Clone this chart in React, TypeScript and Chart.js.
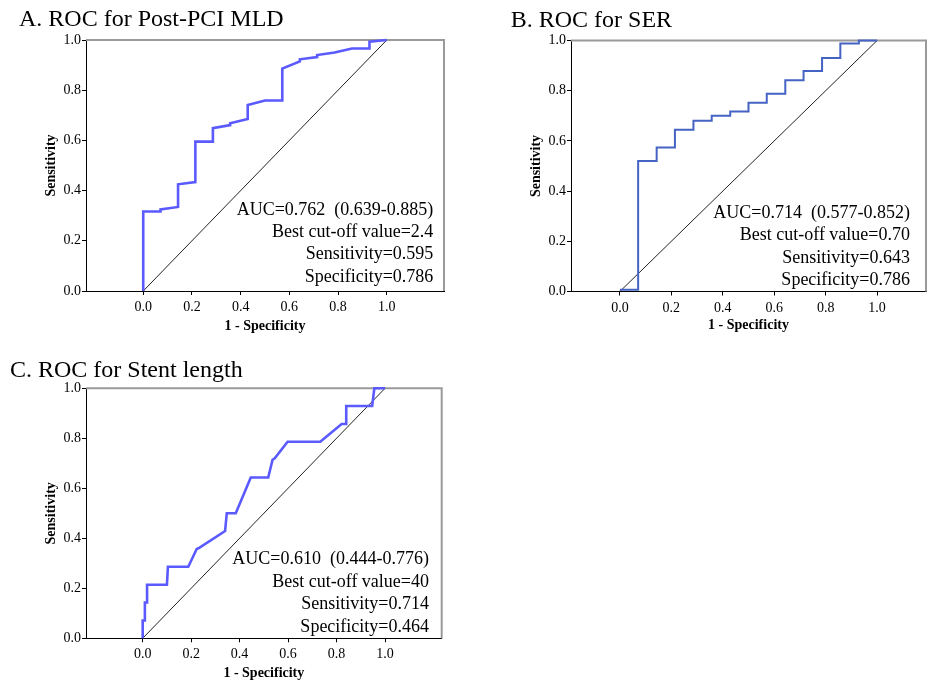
import React, { useEffect, useRef } from "react";
import { Chart, registerables } from "chart.js";

Chart.register(...registerables);

// ---------- data ----------
const tickValues = [0, 0.2, 0.4, 0.6, 0.8, 1.0];
const diagX = [0, 1];
const diagY = [0, 1];

// A. Post-PCI MLD
const mldFpr = [0, 0, 0.071, 0.071, 0.143, 0.143, 0.214, 0.214, 0.286, 0.286, 0.357, 0.357, 0.429, 0.429, 0.5, 0.571, 0.571, 0.643, 0.643, 0.714, 0.714, 0.786, 0.857, 0.929, 0.929, 1];
const mldTpr = [0, 0.317, 0.317, 0.325, 0.335, 0.425, 0.434, 0.595, 0.595, 0.649, 0.661, 0.668, 0.685, 0.741, 0.759, 0.759, 0.886, 0.915, 0.923, 0.932, 0.94, 0.95, 0.966, 0.966, 0.993, 1];
const mldTitle = "A. ROC for Post-PCI MLD";
const mldNotes = ["AUC=0.762  (0.639-0.885)", "Best cut-off value=2.4", "Sensitivity=0.595", "Specificity=0.786"];

// B. SER
const serFpr = [0, 0.071, 0.071, 0.143, 0.143, 0.214, 0.214, 0.286, 0.286, 0.357, 0.357, 0.429, 0.429, 0.5, 0.5, 0.571, 0.571, 0.643, 0.643, 0.714, 0.714, 0.786, 0.786, 0.857, 0.857, 0.929, 0.929, 1];
const serTpr = [0.007, 0.007, 0.52, 0.52, 0.574, 0.574, 0.644, 0.644, 0.68, 0.68, 0.7, 0.7, 0.717, 0.717, 0.752, 0.752, 0.788, 0.788, 0.842, 0.842, 0.878, 0.878, 0.93, 0.93, 0.988, 0.988, 1, 1];
const serTitle = "B. ROC for SER";
const serNotes = ["AUC=0.714  (0.577-0.852)", "Best cut-off value=0.70", "Sensitivity=0.643", "Specificity=0.786"];

// C. Stent length
const stentFpr = [0, 0, 0.009, 0.009, 0.018, 0.018, 0.1, 0.104, 0.188, 0.223, 0.23, 0.34, 0.347, 0.384, 0.446, 0.518, 0.536, 0.545, 0.598, 0.733, 0.821, 0.84, 0.84, 0.947, 0.956, 1];
const stentTpr = [0, 0.071, 0.071, 0.143, 0.143, 0.214, 0.214, 0.286, 0.286, 0.357, 0.36, 0.429, 0.5, 0.5, 0.643, 0.643, 0.714, 0.72, 0.786, 0.786, 0.857, 0.857, 0.929, 0.929, 1, 1];
const stentTitle = "C. ROC for Stent length";
const stentNotes = ["AUC=0.610  (0.444-0.776)", "Best cut-off value=40", "Sensitivity=0.714", "Specificity=0.464"];

const xAxisTitle = "1 - Specificity";
const yAxisTitle = "Sensitivity";

// ---------- layout ----------
const SERIF = "'Liberation Serif', 'Times New Roman', serif";

type PanelCfg = {
  left: number; top: number; width: number; height: number;
  padLeft: number; padTop: number; padRight: number;
  yWidth: number; xHeight: number;
  xMin: number; xMax: number;
  xTitlePad: number; yTitlePad: number;
  titleX: number; titleY: number;
  noteRight: number; noteOffsets: number[];
  color: string; lineWidth: number;
  fpr: number[]; tpr: number[]; title: string; notes: string[];
};

function Panel({ cfg }: { cfg: PanelCfg }) {
  const ref = useRef<HTMLCanvasElement>(null);
  useEffect(() => {
    const pts = (xs: number[], ys: number[]) => xs.map((x, i) => ({ x, y: ys[i] }));
    const deco = {
      id: "deco",
      beforeDatasetsDraw(chart: any) {
        const { ctx, chartArea: a } = chart;
        ctx.save();
        ctx.strokeStyle = "#9a9a9a";
        ctx.lineWidth = 2;
        ctx.beginPath();
        ctx.moveTo(a.left, a.top);
        ctx.lineTo(a.right, a.top);
        ctx.lineTo(a.right, a.bottom);
        ctx.stroke();
        ctx.restore();
      },
      afterDraw(chart: any) {
        const { ctx, chartArea: a } = chart;
        ctx.save();
        ctx.fillStyle = "#000";
        ctx.textBaseline = "alphabetic";
        ctx.font = `24px ${SERIF}`;
        ctx.textAlign = "left";
        ctx.fillText(cfg.title, cfg.titleX, cfg.titleY);
        ctx.font = `18px ${SERIF}`;
        ctx.textAlign = "right";
        cfg.notes.forEach((t, i) => {
          ctx.fillText(t, a.right - cfg.noteRight, a.bottom + cfg.noteOffsets[i]);
        });
        ctx.restore();
      },
    };
    const chart = new Chart(ref.current as HTMLCanvasElement, {
      type: "scatter",
      data: {
        datasets: [
          {
            data: pts(cfg.fpr, cfg.tpr),
            showLine: true,
            borderColor: cfg.color,
            borderWidth: cfg.lineWidth,
            pointRadius: 0,
            tension: 0,
            clip: false as any,
            order: 0,
          },
          {
            data: pts(diagX, diagY),
            showLine: true,
            borderColor: "#222",
            borderWidth: 1,
            pointRadius: 0,
            order: 1,
          },
        ],
      },
      options: {
        responsive: false,
        animation: false,
        devicePixelRatio: 1,
        layout: { padding: { left: cfg.padLeft, top: cfg.padTop, right: cfg.padRight, bottom: 0 } },
        plugins: { legend: { display: false }, tooltip: { enabled: false }, title: { display: false } },
        scales: {
          x: {
            type: "linear",
            min: cfg.xMin,
            max: cfg.xMax,
            afterBuildTicks: (s: any) => { s.ticks = tickValues.map((v) => ({ value: v })); },
            afterFit: (s: any) => { s.height = cfg.xHeight; },
            grid: { display: true, drawOnChartArea: false, drawTicks: true, tickLength: 4, color: "#000" },
            border: { display: true, color: "#000", width: 1 },
            ticks: {
              color: "#000", padding: 4, maxRotation: 0, autoSkip: false,
              font: { family: SERIF, size: 14 },
              callback: (v: any) => Number(v).toFixed(1),
            },
            title: {
              display: true, text: xAxisTitle, color: "#000",
              font: { family: SERIF, size: 14, weight: "bold" },
              padding: { top: 0, bottom: cfg.xTitlePad },
            },
          },
          y: {
            type: "linear",
            min: 0,
            max: 1,
            afterBuildTicks: (s: any) => { s.ticks = tickValues.map((v) => ({ value: v })); },
            afterFit: (s: any) => { s.width = cfg.yWidth; },
            grid: { display: true, drawOnChartArea: false, drawTicks: true, tickLength: 4, color: "#000" },
            border: { display: true, color: "#000", width: 1 },
            ticks: {
              color: "#000", padding: 1, autoSkip: false,
              font: { family: SERIF, size: 14 },
              callback: (v: any) => Number(v).toFixed(1),
            },
            title: {
              display: true, text: yAxisTitle, color: "#000",
              font: { family: SERIF, size: 14, weight: "bold" },
              padding: { top: cfg.yTitlePad, bottom: 0 },
            },
          },
        },
      },
      plugins: [deco],
    } as any);
    return () => chart.destroy();
  }, []);
  return (
    <canvas
      ref={ref}
      width={cfg.width}
      height={cfg.height}
      style={{ position: "absolute", left: cfg.left, top: cfg.top, width: cfg.width, height: cfg.height }}
    />
  );
}

const panels: PanelCfg[] = [
  {
    left: 0, top: 0, width: 465, height: 340,
    padLeft: 40, padTop: 40, padRight: 21, yWidth: 46, xHeight: 49,
    xMin: -0.235, xMax: 1.235, xTitlePad: 4.9, yTitlePad: 3.3,
    titleX: 19, titleY: 26, noteRight: 10.7, noteOffsets: [-76, -54, -31.7, -9.3],
    color: "#5a5aff", lineWidth: 2.6,
    fpr: mldFpr, tpr: mldTpr, title: mldTitle, notes: mldNotes,
  },
  {
    left: 465, top: 0, width: 462, height: 340,
    padLeft: 60, padTop: 40.5, padRight: 1, yWidth: 46, xHeight: 48.5,
    xMin: -0.19, xMax: 1.19, xTitlePad: 6.1, yTitlePad: 3.3,
    titleX: 45.7, titleY: 26.7, noteRight: 16, noteOffsets: [-73.7, -51.7, -29, -6.7],
    color: "#4563c4", lineWidth: 2,
    fpr: serFpr, tpr: serTpr, title: serTitle, notes: serNotes,
  },
  {
    left: 0, top: 345, width: 465, height: 338,
    padLeft: 40, padTop: 43.3, padRight: 23.3, yWidth: 46, xHeight: 44.7,
    xMin: -0.234, xMax: 1.234, xTitlePad: 1.3, yTitlePad: 3.3,
    titleX: 10, titleY: 31.7, noteRight: 12.7, noteOffsets: [-74, -51.6, -29, -6.6],
    color: "#5a5aff", lineWidth: 2.6,
    fpr: stentFpr, tpr: stentTpr, title: stentTitle, notes: stentNotes,
  },
];

export default function App() {
  return (
    <div style={{ position: "absolute", left: 0, top: 0, width: 927, height: 683, background: "#fff" }}>
      {panels.map((p, i) => (
        <Panel key={i} cfg={p} />
      ))}
    </div>
  );
}
